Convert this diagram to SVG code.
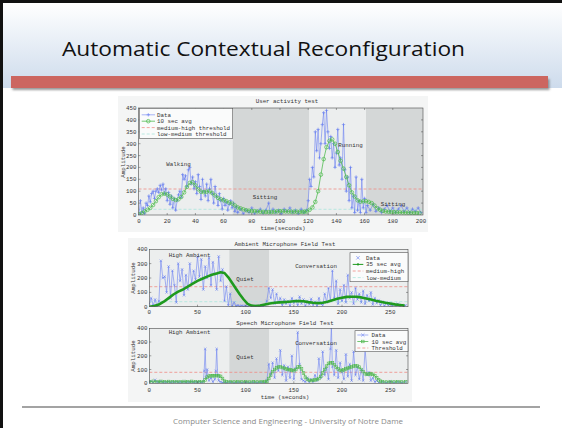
<svg xmlns="http://www.w3.org/2000/svg" width="562" height="428" viewBox="0 0 562 428">
<style>
  .mono { font-family: "Liberation Mono", "DejaVu Sans Mono", monospace; font-size: 5.8px; fill: #333; }
  .mid { text-anchor: middle; }
  .end { text-anchor: end; }
  .frame { fill: none; stroke: #4a4a4a; stroke-width: 0.6; }
  .tick { stroke: #4a4a4a; stroke-width: 0.5; }
  .light { fill: #eceeee; }
  .shade { fill: #d4d7d7; }
  .redth { stroke: #f08c84; stroke-width: 0.8; stroke-dasharray: 3 2; fill: none; }
  .cyanth { stroke: #a9e6dc; stroke-width: 0.8; stroke-dasharray: 3 2; fill: none; }
  .bluePlus { fill: none; stroke: #6b82f2; stroke-width: 0.6; marker-start: url(#mPlus); marker-mid: url(#mPlus); marker-end: url(#mPlus); }
  .blueX { fill: none; stroke: #6b82f2; stroke-width: 0.6; marker-start: url(#mX); marker-mid: url(#mX); marker-end: url(#mX); }
  .greenCirc { fill: none; stroke: #53bd53; stroke-width: 0.8; marker-start: url(#mCirc); marker-mid: url(#mCirc); marker-end: url(#mCirc); }
  .greenThick { fill: none; stroke: #1f9a1f; stroke-width: 2.6; stroke-linejoin: round; }
  .greenSq { fill: none; stroke: #4fb84f; stroke-width: 0.8; marker-start: url(#mSq); marker-mid: url(#mSq); marker-end: url(#mSq); }
  .legend { fill: #fafbfb; stroke: #555; stroke-width: 0.6; }
</style>
<defs>
  <linearGradient id="headGrad" x1="0" y1="0" x2="0" y2="1">
    <stop offset="0" stop-color="#ffffff"/>
    <stop offset="1" stop-color="#cddbec"/>
  </linearGradient>
  <filter id="soft" x="-5%" y="-50%" width="110%" height="200%">
    <feGaussianBlur stdDeviation="1.2"/>
  </filter>
  <marker id="mPlus" markerUnits="userSpaceOnUse" markerWidth="4" markerHeight="4" refX="2" refY="2" overflow="visible">
    <path d="M0.3,2H3.7M2,0.3V3.7" stroke="#5f78f0" stroke-width="0.6" fill="none"/>
  </marker>
  <marker id="mX" markerUnits="userSpaceOnUse" markerWidth="4" markerHeight="4" refX="2" refY="2" overflow="visible">
    <path d="M0.7,0.7L3.3,3.3M3.3,0.7L0.7,3.3" stroke="#5f78f0" stroke-width="0.5" fill="none"/>
  </marker>
  <marker id="mCirc" markerUnits="userSpaceOnUse" markerWidth="5" markerHeight="5" refX="2.5" refY="2.5" overflow="visible">
    <circle cx="2.5" cy="2.5" r="1.8" fill="none" stroke="#4cba4c" stroke-width="0.7"/>
  </marker>
  <marker id="mSq" markerUnits="userSpaceOnUse" markerWidth="4" markerHeight="4" refX="2" refY="2" overflow="visible">
    <rect x="0.7" y="0.7" width="2.6" height="2.6" fill="none" stroke="#4fb84f" stroke-width="0.6"/>
  </marker>
  <clipPath id="clipTop"><rect x="138.5" y="108" width="284.5" height="107"/></clipPath>
  <clipPath id="clipMid"><rect x="149.3" y="249.3" width="258.7" height="57.4"/></clipPath>
  <clipPath id="clipBot"><rect x="149.3" y="328.3" width="258.7" height="55"/></clipPath>
</defs>

<!-- slide background and header -->
<rect x="0" y="0" width="562" height="428" fill="#ffffff"/>
<g id="header">
  <rect x="3" y="3" width="559" height="85" fill="url(#headGrad)"/>
  <rect x="0" y="0" width="562" height="3" fill="#111"/>
  <rect x="0" y="0" width="3" height="428" fill="#111"/>
  <text x="62" y="56" textLength="403" lengthAdjust="spacingAndGlyphs" style="font-family:'Open Sans','Liberation Sans',sans-serif;font-size:20px;fill:#111">Automatic Contextual Reconfiguration</text>
  <rect x="12.5" y="79" width="537" height="11" fill="#555" opacity="0.6" filter="url(#soft)"/>
  <rect x="11" y="76" width="537" height="12" fill="#cc6660"/>
</g>

<!-- figure backdrops -->
<rect x="118" y="96" width="310" height="136" fill="#f4f5f5"/>
<rect x="128" y="238" width="284" height="164" fill="#f4f5f5"/>

<!-- User activity test -->
<g id="chart-activity">
  <rect class="light" x="138.5" y="108" width="94.2" height="107"/>
  <rect class="shade" x="232.7" y="108" width="76.6" height="107"/>
  <rect class="light" x="309.3" y="108" width="56.7" height="107"/>
  <rect class="shade" x="366" y="108" width="57" height="107"/>
  <text class="mono mid" x="287" y="103">User activity test</text>
  <g clip-path="url(#clipTop)">
    <line class="redth" x1="138.5" y1="189" x2="423" y2="189"/>
    <line class="cyanth" x1="138.5" y1="209.3" x2="423" y2="209.3"/>
    <polyline class="bluePlus" points="139,215 140.4,200.7 141.8,212.6 143.2,207.9 144.6,213.8 146.1,203.1 147.5,205.5 148.9,196 150.3,201.9 151.7,193.6 153.1,191.2 154.5,198.4 155.9,191.2 157.3,188.8 158.7,192.4 160.2,185.3 161.6,190 163,184.1 164.4,193.6 165.8,188.8 167.2,200.7 168.6,192.4 170,204.3 171.4,196 172.8,207.9 174.3,198.4 175.7,210.2 177.1,200.7 178.5,194.8 179.9,191.2 181.3,197.2 182.7,174.6 184.1,179.3 185.5,175.8 186.9,186.5 188.4,169.8 189.8,167.4 191.2,184.1 192.6,177 194,188.8 195.4,181.7 196.8,193.6 198.2,174.6 199.6,186.5 201,199.5 202.5,179.3 203.9,191.2 205.3,196 206.7,184.1 208.1,200.7 209.5,188.8 210.9,179.3 212.3,193.6 213.7,203.1 215.1,186.5 216.6,196 218,205.5 219.4,193.6 220.8,200.7 222.2,209.1 223.6,198.4 225,205.5 226.4,201.9 227.8,210.2 229.2,204.3 230.7,200.7 232.1,207.9 233.5,203.1 234.9,211.4 236.3,206.7 237.7,212.6 240.5,209.1 243.3,213.8 246.2,210.2 249,212.6 251.8,207.9 254.6,213.8 257.4,211.4 260.3,209.1 263.1,213.1 265.9,210.2 268.7,203.1 270.1,212.6 273,209.1 275.8,212.6 278.6,210.2 281.4,213.8 284.2,209.1 287.1,211.4 289.9,207.9 292.7,212.6 295.5,210.2 298.3,213.8 301.2,209.1 304,212.6 306.8,210.2 308.2,200.7 309.6,179.3 311,186.5 312.4,167.4 313.8,177 315.3,131.8 316.7,150.8 318.1,129.4 319.5,157.9 320.9,143.7 322.3,124.6 323.7,112.7 325.1,143.7 326.5,110.4 327.9,131.8 329.4,148.4 330.8,136.5 332.2,157.9 333.6,143.7 335,167.4 336.4,153.2 337.8,129.4 339.2,165.1 340.6,157.9 342,179.3 343.5,124.6 344.9,169.8 346.3,191.2 347.7,177 349.1,200.7 350.5,167.4 351.9,207.9 353.3,196 354.7,212.6 356.1,177 357.6,210.2 359,200.7 360.4,212.6 361.8,179.3 363.2,207.9 364.6,198.4 366,212.6 367.4,205.5 370.2,210.2 373.1,204.3 375.9,211.4 378.7,207.9 381.5,212.6 384.3,209.1 387.2,205.5 390,211.4 392.8,207.9 395.6,212.6 398.4,209.1 401.3,205.5 404.1,211.4 406.9,207.9 409.7,212.6 412.5,209.1 415.4,211.4 418.2,207.9 421,212.6"/>
    <polyline class="greenCirc" points="139,214.3 141.8,213.1 144.6,211.4 147.5,209.8 150.3,207.9 153.1,205 155.9,201.2 158.7,197.2 161.6,194.3 164.4,193.6 167.2,194.5 170,196.5 172.8,198.8 175.7,200 178.5,199.3 181.3,196.9 184.1,192.4 186.9,186.9 189.8,182.9 192.6,182.2 195.4,185.3 198.2,189.3 201,191.7 203.9,192.2 206.7,191.7 209.5,191.2 212.3,193.1 215.1,195.5 218,197.9 220.8,199.3 223.6,200.3 226.4,201.2 229.2,202.6 232.1,203.6 234.9,205.5 237.7,207.4 240.5,208.3 243.3,209.3 246.2,210.2 249,210.7 251.8,211 254.6,211.2 257.4,211.4 260.3,211.7 263.1,211.9 265.9,212 268.7,212.1 271.6,212 274.4,211.7 277.2,211.4 280,211.2 282.8,211.3 285.6,211.4 288.5,211.6 291.3,211.7 294.1,211.7 296.9,211.7 299.8,211.8 302.6,211.9 304.5,211.7 306.8,211.4 309.6,209.8 312.4,207.4 315.3,201.9 318.1,191.2 320.9,174.6 323.7,159.1 326.5,147.2 329.4,140.8 332.2,139.4 335,143.7 337.8,152 340.6,160.8 343.5,168.6 346.3,177 349.1,185.3 351.9,192.4 354.7,196.5 357.6,200.3 360.4,201.7 363.2,201.4 366,201.2 368.8,201.9 371.7,203.1 374.5,205.5 377.3,208.3 380.1,209.8 382.9,210.9 385.7,211.5 388.6,211.8 391.4,212 394.2,212.2 397,212.3 399.9,212.4 402.7,212.5 405.5,212.6 408.3,212.7 411.1,212.8 414,212.9 416.8,213 419.6,213.1"/>
  </g>
  <rect class="frame" x="138.5" y="108" width="284.5" height="107"/>
  <path class="tick" d="M138.5,203.1h2M138.5,191.2h2M138.5,179.3h2M138.5,167.4h2M138.5,155.6h2M138.5,143.7h2M138.5,131.8h2M138.5,119.9h2M423,203.1h-2M423,191.2h-2M423,179.3h-2M423,167.4h-2M423,155.6h-2M423,143.7h-2M423,131.8h-2M423,119.9h-2M167.2,215v-2M195.4,215v-2M223.6,215v-2M251.8,215v-2M280,215v-2M308.2,215v-2M336.4,215v-2M364.6,215v-2M392.8,215v-2M167.2,108v2M195.4,108v2M223.6,108v2M251.8,108v2M280,108v2M308.2,108v2M336.4,108v2M364.6,108v2M392.8,108v2"/>
  <g class="mono end">
    <text x="136.5" y="217">0</text>
    <text x="136.5" y="205.1">50</text>
    <text x="136.5" y="193.2">100</text>
    <text x="136.5" y="181.3">150</text>
    <text x="136.5" y="169.4">200</text>
    <text x="136.5" y="157.6">250</text>
    <text x="136.5" y="145.7">300</text>
    <text x="136.5" y="133.8">350</text>
    <text x="136.5" y="121.9">400</text>
    <text x="136.5" y="110">450</text>
  </g>
  <g class="mono mid">
    <text x="139" y="222.5">0</text>
    <text x="167.2" y="222.5">20</text>
    <text x="195.4" y="222.5">40</text>
    <text x="223.6" y="222.5">60</text>
    <text x="251.8" y="222.5">80</text>
    <text x="280" y="222.5">100</text>
    <text x="308.2" y="222.5">120</text>
    <text x="336.4" y="222.5">140</text>
    <text x="364.6" y="222.5">160</text>
    <text x="392.8" y="222.5">180</text>
    <text x="421" y="222.5">200</text>
    <text x="283" y="229.5">time(seconds)</text>
    <text transform="translate(125,162) rotate(-90)">Amplitude</text>
    <text x="178.5" y="165.5">Walking</text>
    <text x="265" y="198.5">Sitting</text>
    <text x="350.5" y="146.5">Running</text>
    <text x="393" y="206">Sitting</text>
  </g>
  <g id="legend-activity">
    <rect class="legend" x="139.3" y="108.3" width="93.4" height="30"/>
    <line x1="141.7" y1="114.8" x2="155" y2="114.8" stroke="#6b82f2" stroke-width="0.6"/>
    <path d="M146.6,114.8h3.4M148.3,113.1v3.4" stroke="#5f78f0" stroke-width="0.6"/>
    <line x1="141.7" y1="121.2" x2="155" y2="121.2" stroke="#53bd53" stroke-width="0.8"/>
    <circle cx="148.3" cy="121.2" r="1.8" fill="none" stroke="#4cba4c" stroke-width="0.7"/>
    <line class="redth" x1="141.7" y1="127.6" x2="155" y2="127.6"/>
    <line class="cyanth" x1="141.7" y1="134" x2="155" y2="134"/>
    <text class="mono" x="157" y="116.8">Data</text>
    <text class="mono" x="157" y="123.2">10 sec avg</text>
    <text class="mono" x="157" y="129.6">medium-high threshold</text>
    <text class="mono" x="157" y="136">low-medium threshold</text>
  </g>
</g>

<!-- Ambient Microphone Field Test -->
<g id="chart-ambient">
  <rect class="light" x="149.3" y="249.3" width="80" height="57.4"/>
  <rect class="shade" x="229.3" y="249.3" width="40" height="57.4"/>
  <rect class="light" x="269.3" y="249.3" width="138.7" height="57.4"/>
  <text class="mono mid" x="285" y="246">Ambient Microphone Field Test</text>
  <g clip-path="url(#clipMid)">
    <line class="redth" x1="149.3" y1="286.7" x2="408" y2="286.7"/>
    <line class="cyanth" x1="149.3" y1="301.7" x2="408" y2="301.7"/>
    <polyline class="blueX" points="149.3,303.8 151.2,298.1 153.2,305.3 155.1,299.5 157,306 158.9,301 160.9,260.8 162.8,278 164.7,276.6 166.6,292.4 168.6,266.5 170.5,298.1 172.4,270.8 174.4,285.2 176.3,302.4 178.2,263.6 180.1,280.9 182.1,269.4 184,295.2 185.9,275.1 187.8,289.5 189.8,263.6 191.7,283.7 193.6,270.8 195.5,279.4 197.5,256.5 199.4,276.6 201.3,259.3 203.3,289.5 205.2,266.5 207.1,278 209,257.9 211,285.2 212.9,262.2 214.8,273.7 216.7,289.5 218.7,256.5 220.6,280.9 222.5,269.4 224.5,301 226.4,286.6 228.3,305.3 230.2,293.8 232.2,306 234.1,302.4 236,306 237.9,305.3 239.9,306.3 241.8,305.6 243.7,306.3 245.7,305.8 247.6,306.4 249.5,305.6 251.4,306.3 253.4,306 255.3,306.4 257.2,305.8 259.1,306.3 261.1,306 263,306.4 264.9,305.3 266.8,301 268.8,288 270.7,298.1 272.6,289.5 274.6,303.8 276.5,293.8 278.4,302.4 280.3,298.1 282.3,305.3 284.2,299.5 286.1,303.8 288,301 290,306 291.9,298.1 293.8,303.1 295.8,300.2 297.7,305.3 299.6,296.7 301.5,303.8 303.5,299.5 305.4,306 307.3,301 309.2,304.5 311.2,298.8 313.1,305.3 315,301.7 317,306 318.9,298.1 320.8,303.8 322.7,305.3 324.7,293.8 326.6,302.4 328.5,288 330.4,301 332.4,270.8 334.3,298.1 336.2,280.9 338.1,303.8 340.1,289.5 342,301 343.9,285.2 345.9,302.4 347.8,275.1 349.7,298.1 351.6,292.4 353.6,303.8 355.5,288 357.4,299.5 359.3,293.8 361.3,302.4 363.2,290.9 365.1,303.8 367.1,295.2 369,301 370.9,292.4 372.8,304.5 374.8,298.1 376.7,303.1 378.6,300.2 380.5,305.3 382.5,301.7 384.4,306 386.3,303.1 388.2,305.3 390.2,303.8 392.1,306 394,304.5 396,305.6 397.9,303.8 399.8,306 401.7,305 403.7,306.3 405.6,305.3"/>
    <polyline class="greenThick" points="149.3,306.7 154.1,306 158.9,304.5 163.8,301.7 168.6,298.1 173.4,294.5 178.2,291.6 183,289.5 187.8,286.6 192.7,283.7 197.5,280.9 202.3,278.7 207.1,276.6 211.9,274.8 216.7,273.4 220.6,272.3 224.5,273 228.3,277.3 232.2,283 236,288.8 239.9,294.5 243.7,299.5 247.6,303.8 251.4,305.6 255.3,306 260.1,305.6 264.9,304.5 269.7,303.5 274.6,302.7 279.4,302.4 284.2,302.1 289,301.7 293.8,301.2 298.6,301 303.5,301.2 308.3,302.1 313.1,302.7 317.9,303.1 322.7,302.7 327.5,301.7 332.4,300.2 337.2,298.8 342,297.8 346.8,296.9 351.6,296.7 356.5,296.7 361.3,297.4 366.1,298.4 370.9,299.5 375.7,300.7 380.5,301.7 385.4,302.7 390.2,303.5 395,304.4 399.8,305 404.6,305.6"/>
  </g>
  <rect class="frame" x="149.3" y="249.3" width="258.7" height="57.4"/>
  <path class="tick" d="M149.3,292.4h2M149.3,278h2M149.3,263.6h2M197.5,306.7v-2M245.7,306.7v-2M293.8,306.7v-2M342,306.7v-2M390.2,306.7v-2M408,292.4h-2M408,278h-2M408,263.6h-2"/>
  <g class="mono end">
    <text x="147.5" y="308.7">0</text>
    <text x="147.5" y="294.4">100</text>
    <text x="147.5" y="280">200</text>
    <text x="147.5" y="265.6">300</text>
    <text x="147.5" y="251.3">400</text>
  </g>
  <g class="mono mid">
    <text x="149.3" y="314">0</text>
    <text x="197.5" y="314">50</text>
    <text x="245.7" y="314">100</text>
    <text x="293.8" y="314">150</text>
    <text x="342" y="314">200</text>
    <text x="390.2" y="314">250</text>
    <text transform="translate(135,278) rotate(-90)">Amplitude</text>
    <text x="189.5" y="257">High Ambient</text>
    <text x="245" y="281">Quiet</text>
    <text x="316" y="268">Conversation</text>
  </g>
  <g id="legend-ambient">
    <rect class="legend" x="350" y="252.7" width="58" height="29"/>
    <path d="M356.3,256.1L359.7,259.5M359.7,256.1L356.3,259.5" stroke="#5f78f0" stroke-width="0.6"/>
    <line x1="352.7" y1="264.4" x2="363.3" y2="264.4" stroke="#1f9a1f" stroke-width="1"/>
    <circle cx="358" cy="264.4" r="1.1" fill="#1f9a1f"/>
    <line class="redth" x1="352.7" y1="271" x2="363.3" y2="271"/>
    <line class="cyanth" x1="352.7" y1="277.6" x2="363.3" y2="277.6"/>
    <text class="mono" x="366" y="259.8">Data</text>
    <text class="mono" x="366" y="266.4">35 sec avg</text>
    <text class="mono" x="366" y="273">medium-high</text>
    <text class="mono" x="366" y="279.6">low-medium</text>
  </g>
</g>

<!-- Speech Microphone Field Test -->
<g id="chart-speech">
  <rect class="light" x="149.3" y="328.3" width="80" height="55"/>
  <rect class="shade" x="229.3" y="328.3" width="40" height="55"/>
  <rect class="light" x="269.3" y="328.3" width="138.7" height="55"/>
  <text class="mono mid" x="285" y="324.5">Speech Microphone Field Test</text>
  <g clip-path="url(#clipBot)">
    <line class="redth" x1="149.3" y1="372.3" x2="408" y2="372.3"/>
    <polyline class="blueX" points="149.3,381.9 151.2,381.2 153.2,382.6 155.1,379.9 157,381.9 158.9,382.2 160.9,381.2 162.8,382.6 164.7,381.9 166.6,382.2 168.6,381.6 170.5,382.6 172.4,381.9 174.4,382.2 176.3,381.6 178.2,382.6 180.1,381.9 182.1,382.5 184,381.6 185.9,382.6 187.8,381.9 189.8,382.2 191.7,381.6 193.6,382.6 195.5,381.9 197.5,382.2 199.4,381.6 201.3,382.6 203.3,381.9 204.2,370.9 205.2,348.9 206.1,377.8 207.1,369.5 209,380.6 211,377.8 212.9,381.9 214.8,379.2 215.8,370.9 216.7,348.9 217.7,375.1 218.7,380.6 220.6,381.9 222.5,382.6 224.5,382.2 226.4,382.6 230.2,382.2 234.1,382.8 237.9,382.3 241.8,382.8 245.7,382.2 249.5,382.8 253.4,382.3 257.2,382.8 261.1,382.2 264.9,382.6 266.8,380.6 268.8,364.1 270.7,375.1 272.6,362.7 274.6,377.8 276.5,358.6 278.4,370.9 280.3,350.3 282.3,375.1 284.2,365.4 286.1,380.6 288,366.8 290,377.8 291.9,355.8 293.8,379.2 295.8,368.2 297.7,332.4 299.6,364.1 301.5,379.2 303.5,380.6 305.4,381.9 307.3,377.8 309.2,382.2 311.2,379.2 313.1,381.9 315,375.1 317,380.6 318.9,358.6 320.8,377.8 322.7,351.7 324.7,375.1 326.6,368.2 328.5,379.2 330.4,348.9 331.4,326.9 332.4,366.8 334.3,375.1 336.2,350.3 338.1,377.8 340.1,362.7 342,372.3 343.9,379.2 345.9,354.4 347.8,376.4 349.7,364.1 351.6,380.6 353.6,351.7 355.5,375.1 357.4,366.8 359.3,379.2 361.3,369.5 363.2,380.6 365.1,348.9 367.1,375.1 369,372.3 370.9,380.6 372.8,377.8 374.8,381.9 376.7,380.6 378.6,382.6 382.5,381.9 386.3,382.6 390.2,381.6 394,382.6 397.9,381.9 401.7,382.6 405.6,381.9"/>
    <polyline class="greenSq" points="149.3,381.6 153.2,381.3 157,381.8 160.9,381.4 164.7,381.8 168.6,381.5 172.4,381.9 176.3,381.6 180.1,381.9 184,381.5 187.8,381.8 191.7,381.4 195.5,381.8 199.4,381.6 203.3,381.6 205.2,379.9 207.1,377.1 209,376.1 211,375.7 212.9,375.8 214.8,375.7 216.7,375.6 218.7,375.7 220.6,376.4 222.5,378.5 224.5,381.2 226.4,381.9 230.2,381.7 234.1,382 237.9,381.8 241.8,382 245.7,381.8 249.5,382.1 253.4,381.9 257.2,382 261.1,381.8 264.9,381.7 266.8,381.4 268.8,378.5 270.7,375.1 272.6,371.6 274.6,369.5 276.5,367.9 278.4,367.1 280.3,366.8 282.3,367.5 284.2,368.2 286.1,368.9 288,369.5 290,369.8 291.9,370.2 293.8,370.7 295.8,369.5 297.7,367.1 299.6,366.8 301.5,368.9 303.5,373 305.4,377.1 307.3,379.2 309.2,380.3 311.2,380.6 313.1,380.3 315,379.9 317,379.5 318.9,378.5 320.8,376.4 322.7,373 324.7,369.5 326.6,366.1 328.5,363.4 330.4,362.7 332.4,362.9 334.3,364.7 336.2,367.1 338.1,368.9 340.1,370.2 342,370.7 343.9,369.8 345.9,368.9 347.8,368.2 349.7,367.5 351.6,366.8 353.6,366.1 355.5,365.7 357.4,366.1 359.3,367.1 361.3,369.5 363.2,371.6 365.1,373.7 367.1,374.4 369,374 370.9,373.7 372.8,374.4 374.8,375.7 376.7,377.8 378.6,379.9 380.5,381.2 382.5,381.9 386.3,382 390.2,381.8 394,382 397.9,381.8 401.7,382 405.6,381.9"/>
  </g>
  <rect class="frame" x="149.3" y="328.3" width="258.7" height="55"/>
  <path class="tick" d="M149.3,369.5h2M149.3,355.8h2M149.3,342h2M197.5,383.3v-2M245.7,383.3v-2M293.8,383.3v-2M342,383.3v-2M390.2,383.3v-2M408,369.5h-2M408,355.8h-2M408,342h-2"/>
  <g class="mono end">
    <text x="147.5" y="385.3">0</text>
    <text x="147.5" y="371.5">100</text>
    <text x="147.5" y="357.8">200</text>
    <text x="147.5" y="344">300</text>
    <text x="147.5" y="330.3">400</text>
  </g>
  <g class="mono mid">
    <text x="149.3" y="391.5">0</text>
    <text x="197.5" y="391.5">50</text>
    <text x="245.7" y="391.5">100</text>
    <text x="293.8" y="391.5">150</text>
    <text x="342" y="391.5">200</text>
    <text x="390.2" y="391.5">250</text>
    <text x="285" y="398.5">time (seconds)</text>
    <text transform="translate(135,356) rotate(-90)">Amplitude</text>
    <text x="189.5" y="333.5">High Ambient</text>
    <text x="245" y="358.5">Quiet</text>
    <text x="316" y="344.5">Conversation</text>
  </g>
  <g id="legend-speech">
    <rect class="legend" x="355" y="330.7" width="53" height="21"/>
    <line x1="357.3" y1="335" x2="368.3" y2="335" stroke="#6b82f2" stroke-width="0.6"/>
    <path d="M361.1,333.3L364.5,336.7M364.5,333.3L361.1,336.7" stroke="#5f78f0" stroke-width="0.5"/>
    <line x1="357.3" y1="341.5" x2="368.3" y2="341.5" stroke="#4fb84f" stroke-width="0.8"/>
    <rect x="361.5" y="340.2" width="2.6" height="2.6" fill="none" stroke="#4fb84f" stroke-width="0.6"/>
    <line class="redth" x1="357.3" y1="348" x2="368.3" y2="348"/>
    <text class="mono" x="371.5" y="337">Data</text>
    <text class="mono" x="371.5" y="343.5">10 sec avg</text>
    <text class="mono" x="371.5" y="350">Threshold</text>
  </g>
</g>

<!-- footer -->
<g id="footer">
  <line x1="22" y1="407" x2="540" y2="407" stroke="#a3a3a3" stroke-width="2"/>
  <text x="288" y="423.5" text-anchor="middle" textLength="230" lengthAdjust="spacingAndGlyphs" style="font-family:'Open Sans','Liberation Sans',sans-serif;font-size:8px;fill:#8a8a8a">Computer Science and Engineering - University of Notre Dame</text>
</g>
</svg>
